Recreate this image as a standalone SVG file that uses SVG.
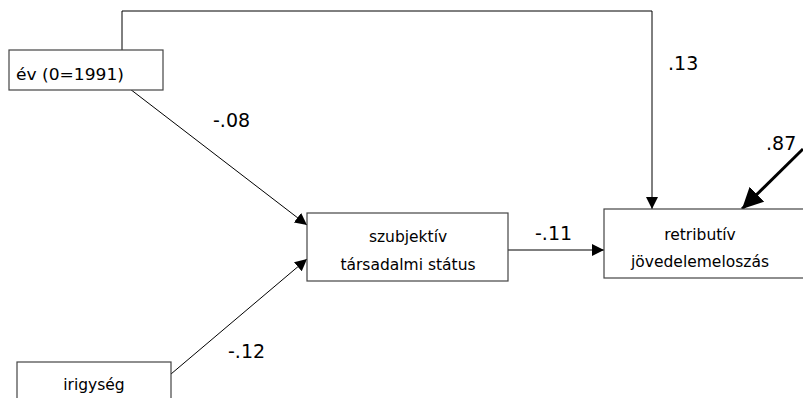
<svg xmlns="http://www.w3.org/2000/svg" width="803" height="398" viewBox="0 0 803 398">
<defs>
<style>
.box{fill:#fff;stroke:#444;stroke-width:1.2}
.lbl{font-family:"DejaVu Sans","Liberation Sans",sans-serif;font-size:15.5px;fill:#000}
.coef{font-family:"DejaVu Sans","Liberation Sans",sans-serif;font-size:19px;fill:#000}
.ln{fill:none;stroke:#000;stroke-width:1}
.thick{fill:none;stroke:#000;stroke-width:3}
</style>
<marker id="ah" viewBox="0 0 10 10" refX="10" refY="5" markerWidth="12" markerHeight="12" markerUnits="userSpaceOnUse" orient="auto"><path d="M0,0 L10,5 L0,10 z" fill="#000"/></marker>
<marker id="ahb" viewBox="0 0 10 10" refX="10" refY="5" markerWidth="7" markerHeight="7" orient="auto"><path d="M0,0 L10,5 L0,10 z" fill="#000"/></marker>
</defs>
<g id="connectors">
<polyline class="ln" points="122,50 122,11 652,11 652,209" marker-end="url(#ah)"/>
<line class="ln" x1="130" y1="89" x2="307" y2="225" marker-end="url(#ah)"/>
<line class="ln" x1="171" y1="374" x2="307" y2="259" marker-end="url(#ah)"/>
<line class="ln" x1="508" y1="250" x2="604" y2="250" marker-end="url(#ah)"/>
<line class="thick" x1="803" y1="149" x2="742" y2="209" marker-end="url(#ahb)"/>
</g>
<g id="node-ev">
<rect class="box" x="9" y="50" width="154" height="40"/>
<text class="lbl" x="16" y="80" textLength="108" lengthAdjust="spacingAndGlyphs">év (0=1991)</text>
</g>
<g id="node-szubjektiv">
<rect class="box" x="307" y="213" width="201" height="68"/>
<text class="lbl" x="408" y="242" text-anchor="middle">szubjektív</text>
<text class="lbl" x="408" y="270" text-anchor="middle">társadalmi státus</text>
</g>
<g id="node-retributiv">
<rect class="box" x="604" y="209" width="205" height="69"/>
<text class="lbl" x="700" y="240" text-anchor="middle">retributív</text>
<text class="lbl" x="700" y="267" text-anchor="middle">jövedelemeloszás</text>
</g>
<g id="node-irigyseg">
<rect class="box" x="17" y="362" width="154" height="50"/>
<text class="lbl" x="94" y="390" text-anchor="middle">irigység</text>
</g>
<g id="labels">
<text class="coef" x="213" y="127">-.08</text>
<text class="coef" x="668" y="70">.13</text>
<text class="coef" x="535" y="240">-.11</text>
<text class="coef" x="228" y="358">-.12</text>
<text class="coef" x="766" y="150">.87</text>
</g>
</svg>
